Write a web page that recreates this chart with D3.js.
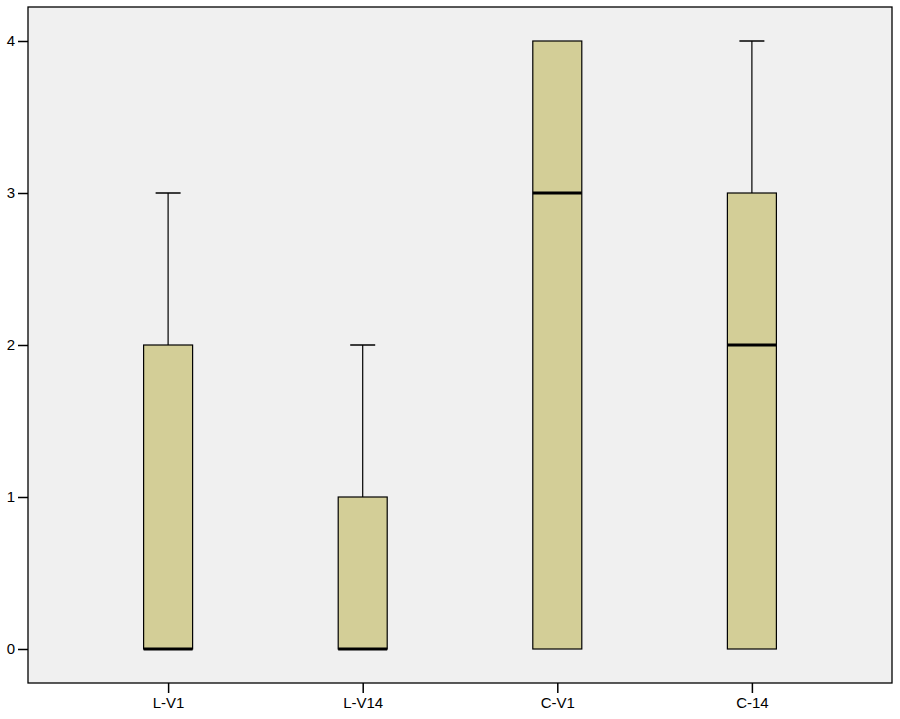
<!DOCTYPE html>
<html><head><meta charset="utf-8">
<script src="https://cdn.jsdelivr.net/npm/d3@7"></script>
<style>body{margin:0;background:#fff}</style>
</head><body>
<svg id="c" width="900" height="719"></svg>
<script>
const categories = ["L-V1","L-V14","C-V1","C-14"];
const mins    = [0,0,0,0];
const q1s     = [0,0,0,0];
const medians = [0,0,3,2];
const q3s     = [2,1,4,3];
const maxs    = [3,2,4,4];
const yTicks  = [0,1,2,3,4];

const L=28,R=892,T=7,B=683;
const svg=d3.select("#c");
const x=d3.scalePoint().domain(categories).range([L,R]).padding(0.72);
const y=d3.scaleLinear().domain([-0.2237,4.2237]).range([B,T]);
const font="Arial, 'Liberation Sans', sans-serif";

svg.append("rect").attr("x",L).attr("y",T).attr("width",R-L).attr("height",B-T)
  .attr("fill","#f0f0f0").attr("stroke","#000").attr("stroke-width",1.3);

const data=categories.map((c,i)=>({c,min:mins[i],q1:q1s[i],med:medians[i],q3:q3s[i],max:maxs[i]}));
const bw=49, cw=25;
const g=svg.append("g");
data.forEach(d=>{
  const cx=x(d.c);
  if(d.max>d.q3){
    g.append("line").attr("x1",cx).attr("x2",cx).attr("y1",y(d.q3)).attr("y2",y(d.max)).attr("stroke","#000").attr("stroke-width",1.2);
    g.append("line").attr("x1",cx-cw/2).attr("x2",cx+cw/2).attr("y1",y(d.max)).attr("y2",y(d.max)).attr("stroke","#000").attr("stroke-width",1.5);
  }
  if(d.min<d.q1){
    g.append("line").attr("x1",cx).attr("x2",cx).attr("y1",y(d.q1)).attr("y2",y(d.min)).attr("stroke","#000").attr("stroke-width",1.2);
    g.append("line").attr("x1",cx-cw/2).attr("x2",cx+cw/2).attr("y1",y(d.min)).attr("y2",y(d.min)).attr("stroke","#000").attr("stroke-width",1.5);
  }
  g.append("rect").attr("x",cx-bw/2).attr("y",y(d.q3)).attr("width",bw).attr("height",y(d.q1)-y(d.q3))
    .attr("fill","#d3ce97").attr("stroke","#000").attr("stroke-width",1.2);
  g.append("line").attr("x1",cx-bw/2).attr("x2",cx+bw/2).attr("y1",y(d.med)).attr("y2",y(d.med)).attr("stroke","#000").attr("stroke-width",3);
});

const ya=svg.append("g").attr("transform",`translate(${L},0)`)
  .call(d3.axisLeft(y).tickValues(yTicks).tickFormat(d3.format("d")).tickSize(10).tickPadding(3));
ya.select(".domain").remove();
ya.selectAll("line").attr("stroke","#000").attr("stroke-width",1.5);
ya.selectAll("text").attr("font-family",font).attr("font-size",15).attr("fill","#000");

const xa=svg.append("g").attr("transform",`translate(0,${B})`)
  .call(d3.axisBottom(x).tickSize(10).tickPadding(4));
xa.select(".domain").remove();
xa.selectAll("line").attr("stroke","#000").attr("stroke-width",1.5);
xa.selectAll("text").attr("font-family",font).attr("font-size",15).attr("fill","#000");
</script>
</body></html>
